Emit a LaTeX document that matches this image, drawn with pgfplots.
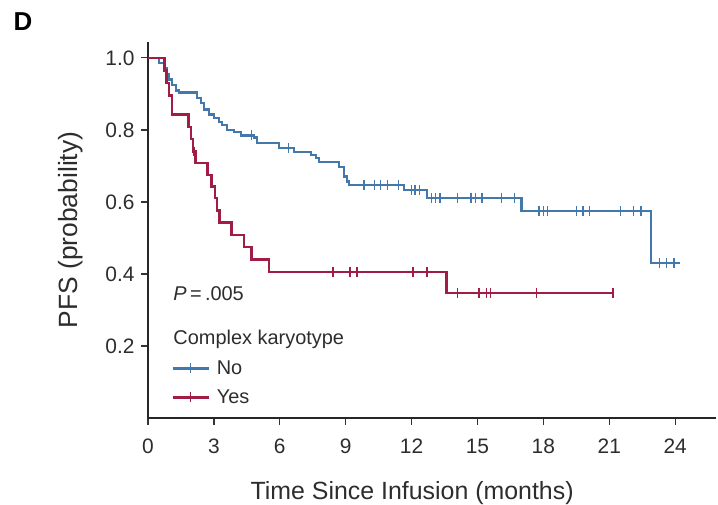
\documentclass[border=0pt]{standalone}
\usepackage{pgfplots}
\pgfplotsset{compat=1.18}
\usepackage{pgfplotstable}
\usepackage{fontspec}
\setmainfont{Liberation Sans}
\definecolor{kmblue}{RGB}{66,120,172}
\definecolor{kmred}{RGB}{160,30,70}
\definecolor{txt}{RGB}{45,45,45}

\pgfplotstableread{
t s
0 1.0
0.5 0.986
0.73 0.97
0.87 0.953
0.96 0.94
1.09 0.925
1.28 0.91
1.41 0.903
2.23 0.889
2.41 0.875
2.55 0.856
2.78 0.842
3.0 0.833
3.23 0.822
3.37 0.814
3.6 0.80
3.92 0.794
4.23 0.785
4.83 0.778
4.96 0.764
5.97 0.75
6.65 0.739
7.42 0.73
7.65 0.722
7.79 0.711
8.7 0.697
8.93 0.67
9.06 0.656
9.15 0.647
11.66 0.633
12.7 0.611
17.0 0.575
22.9 0.43
24.2 0.43
}\bluecurve

\pgfplotstableread{
t s
4.7 0.785
6.4 0.75
9.84 0.647
10.3 0.647
10.6 0.647
10.9 0.647
11.4 0.647
12.0 0.633
12.15 0.633
12.35 0.633
12.9 0.611
13.1 0.611
13.3 0.611
14.1 0.611
14.7 0.611
14.9 0.611
15.2 0.611
16.1 0.611
16.7 0.611
17.8 0.575
18.0 0.575
18.2 0.575
19.5 0.575
19.8 0.575
20.1 0.575
21.5 0.575
22.1 0.575
22.45 0.575
23.3 0.43
23.6 0.43
23.95 0.43
}\bluecens

\pgfplotstableread{
t s
0 1.0
0.75 0.965
0.85 0.93
0.95 0.895
1.1 0.842
1.85 0.808
1.95 0.775
2.05 0.74
2.15 0.708
2.7 0.675
2.9 0.643
3.05 0.611
3.15 0.576
3.25 0.542
3.8 0.508
4.37 0.475
4.7 0.44
5.5 0.405
13.6 0.347
21.17 0.347
}\redcurve

\pgfplotstableread{
t s
2.1 0.74
8.42 0.405
9.2 0.405
9.52 0.405
12.07 0.405
12.7 0.405
14.1 0.347
15.07 0.347
15.4 0.347
15.6 0.347
17.7 0.347
21.17 0.347
}\redcens

\begin{document}
\begin{tikzpicture}[x=1bp,y=1bp]
\useasboundingbox (0,0) rectangle (718,505);
\node[font=\fontsize{26}{30}\selectfont\bfseries, text=black] at (23,483) {D};
\begin{axis}[
  at={(148bp,87bp)}, anchor=south west,
  scale only axis, width=568bp, height=376bp,
  xmin=0, xmax=25.86, ymin=0, ymax=1.044,
  axis x line*=bottom, axis y line*=left,
  axis line style={line width=1.5bp, black!85, -},
  every tick/.style={line width=1.3bp, black!80},
  tick align=outside, major tick length=7bp,
  xtick={0,3,6,9,12,15,18,21,24},
  ytick={0.2,0.4,0.6,0.8,1.0},
  /pgf/number format/assume math mode=true,
  typeset ticklabels with strut,
  ticklabel style={font=\fontsize{21}{24}\selectfont, text=txt},
  xticklabel style={yshift=-8bp},
  yticklabel style={xshift=-3bp, yshift=-2.5bp, /pgf/number format/.cd, fixed, fixed zerofill, precision=1},
  xlabel={Time Since Infusion (months)},
  ylabel={PFS (probability)},
  xlabel style={font=\fontsize{25}{29}\selectfont, text=txt, at={(axis description cs:0.465,-0.2)}, anchor=center},
  ylabel style={font=\fontsize{26.5}{30}\selectfont, text=txt, at={(axis description cs:-0.137,0.5)}, anchor=center, rotate=0},
  legend cell align=left,
  legend style={at={(axis cs:1.05,0.0975)}, anchor=west, draw=none, fill=none,
    inner sep=0pt, row sep=10bp, font=\fontsize{20}{23}\selectfont, text=txt},
  legend image code/.code={%
    \draw[#1, mark repeat=2, mark phase=2] plot coordinates {(0bp,0bp) (18bp,0bp) (36bp,0bp)};},
]
\addplot[kmblue, line width=2.6bp, const plot, forget plot] table {\bluecurve};
\addplot[kmblue, only marks, mark=|, mark size=4.8bp, mark options={line width=1.3bp}, forget plot] table {\bluecens};
\addplot[kmred, line width=2.6bp, const plot, forget plot] table {\redcurve};
\addplot[kmred, only marks, mark=|, mark size=4.8bp, mark options={line width=1.3bp}, forget plot] table {\redcens};
\addlegendimage{kmblue, line width=2.6bp, mark=|, mark size=5bp, mark options={line width=1.3bp}}
\addlegendentry{\hspace{5bp}No}
\addlegendimage{kmred, line width=2.6bp, mark=|, mark size=5bp, mark options={line width=1.3bp}}
\addlegendentry{\hspace{5bp}Yes}
\node[anchor=west, font=\fontsize{20}{23}\selectfont, text=txt] at (axis cs:1.0,0.345) {\textit{P}\,=\,.005};
\node[anchor=west, font=\fontsize{20}{23}\selectfont, text=txt] at (axis cs:1.0,0.218) {Complex karyotype};
\end{axis}
\end{tikzpicture}
\end{document}
